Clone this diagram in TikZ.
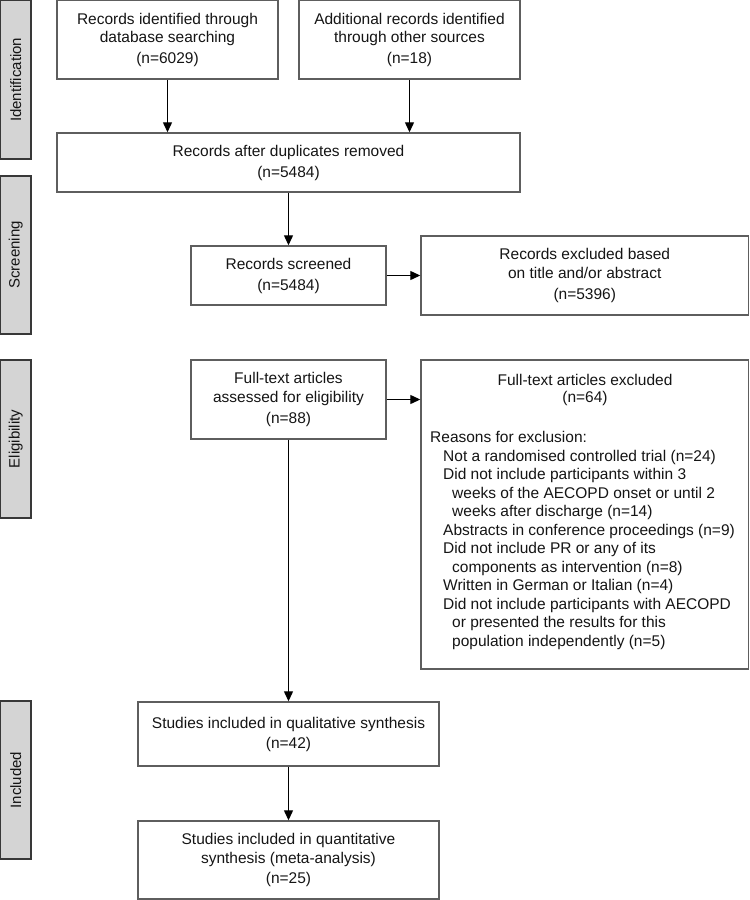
\documentclass[tikz,border=0pt]{standalone}
\usepackage{fontspec}
\setmainfont{Liberation Sans}
\usetikzlibrary{arrows.meta}
\definecolor{boxline}{HTML}{5E5E5E}
\definecolor{txt}{HTML}{151515}
\definecolor{sidefill}{HTML}{D4D4D4}
\definecolor{sideline}{HTML}{383838}
\begin{document}
\begin{tikzpicture}[x=1pt,y=-1pt,
  flowbox/.style={draw=boxline, line width=1.4pt, fill=white, align=center,
    font=\fontsize{15.5}{18.5}\selectfont, text=txt, inner sep=0pt},
  sidebox/.style={draw=sideline, line width=1.2pt, fill=sidefill, rotate=90,
    font=\fontsize{15}{18}\selectfont, text=txt, inner sep=0pt,
    minimum height=30.4pt},
  gtext/.style={font=\fontsize{15.5}{18.5}\selectfont, text=txt, inner sep=0pt},
  arr/.style={-{Triangle[length=10pt,width=9pt]}, line width=1.2pt, black},
]
\useasboundingbox (0,0) rectangle (750,900);

% side labels
\node[sidebox, minimum width=158.4pt] (sid) at (15.8,79.8) {Identification};
\node[sidebox, minimum width=158pt] (sscr) at (15.8,255) {Screening};
\node[sidebox, minimum width=158pt] (selg) at (15.8,439) {Eligibility};
\node[sidebox, minimum width=158pt] (sinc) at (15.8,780) {Included};

% boxes
\node[flowbox, minimum width=221pt, minimum height=78.3pt] (A) at (167.5,39.9)
  {Records identified through\\database searching\\[2.5pt](n=6029)};
\node[flowbox, minimum width=221pt, minimum height=78.3pt] (B) at (409.5,39.9)
  {Additional records identified\\through other sources\\[2.5pt](n=18)};
\node[flowbox, minimum width=463pt, minimum height=59pt] (C) at (288.5,162.5)
  {Records after duplicates removed\\[2.5pt](n=5484)};
\node[flowbox, minimum width=195pt, minimum height=59pt] (D) at (288.5,275.5)
  {Records screened\\[2.5pt](n=5484)};
\node[flowbox, minimum width=327.5pt, minimum height=79pt] (E) at (584.75,275.5)
  {Records excluded based\\on title and/or abstract\\[2.5pt](n=5396)};
\node[flowbox, minimum width=195pt, minimum height=79pt] (F) at (288.5,399.5)
  {Full-text articles\\assessed for eligibility\\[2.5pt](n=88)};
\node[flowbox, minimum width=327.5pt, minimum height=309pt] (G) at (584.75,514.5) {};
\node[flowbox, minimum width=301pt, minimum height=64pt] (H) at (288.5,734)
  {Studies included in qualitative synthesis\\[1.5pt](n=42)};
\node[flowbox, minimum width=301pt, minimum height=78pt] (I) at (288.5,860)
  {Studies included in quantitative\\synthesis (meta-analysis)\\[2pt](n=25)};

% text inside G
\node[gtext] (gt1) at (585,380) {Full-text articles excluded};
\node[gtext] (gt2) at (585,398.5) {(n=64)};
\foreach \yy/\xx/\tt [count=\i] in {
  442.5/430/Reasons for exclusion:,
  461/443/Not a randomised controlled trial (n=24),
  479.5/443/Did not include participants within 3,
  498/452/weeks of the AECOPD onset or until 2,
  516.5/452/weeks after discharge (n=14),
  535/443/Abstracts in conference proceedings (n=9),
  553.5/443/Did not include PR or any of its,
  572/452/components as intervention (n=8),
  590.5/443/Written in German or Italian (n=4),
  609/443/Did not include participants with AECOPD,
  627.5/452/or presented the results for this,
  646/452/population independently (n=5)}
  \node[gtext, anchor=base west] (gl\i) at (\xx,\yy) {\tt};

% connectors
\draw[arr] (A.south) -- (A.south |- C.north);
\draw[arr] (B.south) -- (B.south |- C.north);
\draw[arr] (C.south) -- (D.north);
\draw[arr] (D.east) -- (D.east -| E.west);
\draw[arr] (F.south) -- (H.north);
\draw[arr] (F.east) -- (F.east -| G.west);
\draw[arr] (H.south) -- (I.north);
\end{tikzpicture}
\end{document}
